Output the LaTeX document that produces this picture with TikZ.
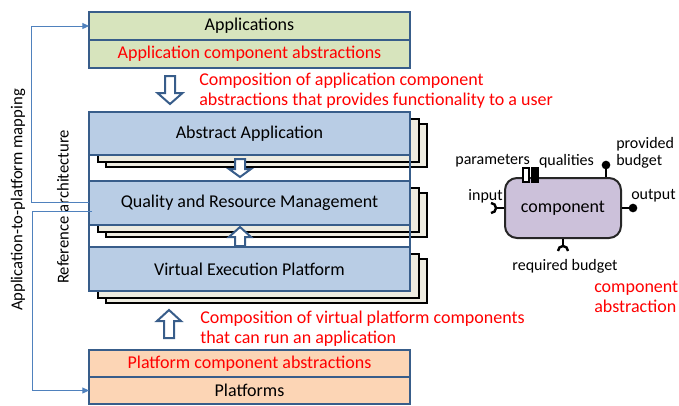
\documentclass[tikz,border=0pt]{standalone}
\usepackage{fontspec}
\setmainfont{Carlito}
\usepackage{tikz}
\usetikzlibrary{arrows.meta}
\definecolor{layerBlue}{HTML}{B9CDE5}
\definecolor{edgeBlue}{HTML}{385D8A}
\definecolor{appGreen}{HTML}{D7E4BD}
\definecolor{platOrange}{HTML}{FCD5B5}
\definecolor{shadowGrey}{HTML}{EEECE1}
\definecolor{compLilac}{HTML}{CCC1DA}
\definecolor{mapBlue}{HTML}{4F81BD}
\newcommand{\mainsize}{\fontsize{13.5}{15}\selectfont}
\newcommand{\labelsize}{\fontsize{12}{13}\selectfont}
\newcommand{\sidesize}{\fontsize{12.5}{14}\selectfont}

\begin{document}
\begin{tikzpicture}[x=0.75pt,y=-0.75pt,
        layer/.style={draw=edgeBlue, line width=1.6pt, fill=layerBlue, minimum width=240.75pt, inner sep=0pt, outer sep=0pt, font=\mainsize},
        shadowbox/.style={draw=black, line width=1.4pt, fill=shadowGrey},
        archframe/.style={draw=edgeBlue, line width=1.1pt},
        blockarrow/.style={draw=edgeBlue, line width=1.5pt, fill=white, line join=miter},
        redtext/.style={text=red, font=\mainsize, align=left, inner sep=0pt},
        mapline/.style={draw=mapBlue, line width=0.75pt, -{Triangle[length=5pt,width=4.5pt]}},
        port/.style={draw=black, line width=1.8pt},
        dot/.style={circle, fill=black, inner sep=0pt, minimum size=6.5pt},
        label/.style={font=\labelsize, inner sep=0pt}]
    \useasboundingbox (0,0) rectangle (679,405);
    \newcommand{\archLayer}[4]{
        \draw[shadowbox] (106,#2+12) rectangle (427,#3+12);
        \draw[shadowbox] (98,#2+7) rectangle (419,#3+7);
        \node[layer, minimum height={(#3-#2)*0.75pt}] (#1) at (249.5,{(#2+#3)/2}) {#4};
    }
    \newcommand{\hollowArrow}[6]{
        \draw[blockarrow] (#1-#5,#2) -- (#1+#5,#2) -- (#1+#5,#3) -- (#1+#6,#3) -- (#1,#4) -- (#1-#6,#3) -- (#1-#5,#3) -- cycle;
    }
    % application side
    \node[layer, fill=appGreen, minimum height=21pt] (apps) at (249.5,26) {Applications};
    \node[layer, fill=appGreen, minimum height=21pt, text=red] (appabs) at (249.5,54) {Application component abstractions};

    % reference architecture
    \archLayer{aa}{112}{155}{Abstract Application};
    \archLayer{qrm}{181}{225}{Quality and Resource Management};
    \archLayer{vep}{247}{291}{Virtual Execution Platform};
    \draw[archframe] (aa.north west) rectangle (vep.south east);

    % platform side
    \node[layer, fill=platOrange, minimum height=20.25pt, text=red] (platabs) at (249.5,363.5) {Platform component abstractions};
    \node[layer, fill=platOrange, minimum height=20.25pt] (plat) at (249.5,390.5) {Platforms};

    \hollowArrow{170}{76}{93}{104}{5}{12.5};
    \hollowArrow{240}{159}{169}{177}{5}{11};
    \hollowArrow{240}{246}{237}{227}{5}{11};
    \hollowArrow{169}{338}{321}{310}{5}{12};

    \node[redtext, anchor=west] (compapp) at (199,91) {Composition of application component\\abstractions that provides functionality to a user};
    \node[redtext, anchor=west] (compplat) at (200,329) {Composition of virtual platform components\\that can run an application};

    \node[label, font=\sidesize, rotate=90] (reflabel) at (63,207) {Reference architecture};
    \node[label, font=\sidesize, rotate=90] (maplabel) at (18,200) {Application-to-platform mapping};

    \draw[mapline] (qrm.west |- 0,202) -- (31,202) |- (apps.west);
    \draw[mapline] (92,211) -- (32,211) |- (plat.west);

    % component abstraction
    \node[draw=black!85, line width=1.5pt, fill=compLilac, rounded corners=9pt, minimum width=87pt, minimum height=45pt, font=\mainsize] (comp) at (563,208) {component};
    \draw[port] (comp.west) -- ++(-8,0) coordinate (inTip);
    \draw[port] ([shift={(-5,-5)}]inTip) arc[start angle=-90, end angle=90, radius=5];
    \draw[port] (comp.south) -- ++(0,7) coordinate (reqTip);
    \draw[port] ([shift={(-5,5)}]reqTip) arc[start angle=180, end angle=360, radius=5];
    \draw[port] (comp.east) -- ++(11,0) node[dot] (outDot) {};
    \draw[port] ([shift={(43,0)}]comp.north) -- ++(0,-12) node[dot] (provDot) {};
    \node[draw=black, line width=1pt, fill=white, minimum width=4.5pt, minimum height=10.5pt, inner sep=0pt] (parbox) at (526,175) {};
    \node[draw=black, line width=1pt, fill=black, minimum width=4.5pt, minimum height=10.5pt, inner sep=0pt] (qualbox) at (535,175) {};

    \node[label, anchor=east] (parlabel) at (530,161) {parameters};
    \node[label] (quallabel) at (566.5,161) {qualities};
    \node[label, anchor=west, align=left] (provlabel) at (616,153) {provided\\budget};
    \node[label, anchor=east] (inlabel) at (503,196) {input};
    \node[label, anchor=west] (outlabel) at (631,196) {output};
    \node[label] (reqlabel) at (565,266) {required budget};
    \node[redtext, anchor=west] (abslabel) at (594,297) {component\\abstraction};
\end{tikzpicture}
\end{document}
